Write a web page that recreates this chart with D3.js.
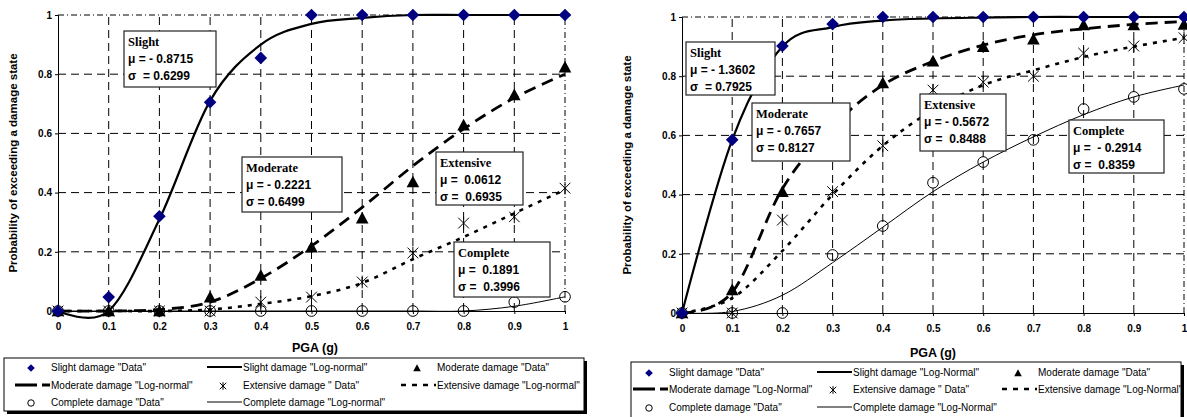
<!DOCTYPE html>
<html>
<head>
<meta charset="utf-8">
<script src="https://cdn.jsdelivr.net/npm/d3@7"></script>
<style>
  body { margin: 0; background: #fff; }
  svg { display: block; }
</style>
</head>
<body>
<svg id="chart" width="1187" height="417"></svg>
<script>
// PGA steps (g)
const pga = [0, 0.1, 0.2, 0.3, 0.4, 0.5, 0.6, 0.7, 0.8, 0.9, 1];
const xTicks = [0, 0.1, 0.2, 0.3, 0.4, 0.5, 0.6, 0.7, 0.8, 0.9, 1];
const yTicks = [0, 0.2, 0.4, 0.6, 0.8, 1];

// left chart
const leftSlightData = [0, 0.047, 0.32, 0.705, 0.855, 1, 1, 1, 1, 1, 1];
const leftSlightLN = [0, 0, 0.31, 0.71, 0.9, 0.97, 0.99, 1, 1, 1, 1];
const leftModerateData = [0, 0, 0, 0.047, 0.12, 0.216, 0.314, 0.436, 0.628, 0.73, 0.824];
const leftModerateLN = [0, 0, 0.005, 0.03, 0.11, 0.22, 0.35, 0.49, 0.615, 0.72, 0.8];
const leftExtensiveData = [0, 0, 0, 0, 0.03, 0.047, 0.098, 0.196, 0.297, 0.318, 0.415];
const leftExtensiveLN = [0, 0, 0, 0.005, 0.024, 0.05, 0.095, 0.175, 0.25, 0.33, 0.41];
const leftCompleteData = [0, 0, 0, 0, 0, 0, 0, 0, 0, 0.03, 0.048];
const leftCompleteLN = [0, 0, 0, 0, 0, 0, 0, 0, 0, 0.016, 0.048];

// right chart
const rightSlightData = [0, 0.585, 0.902, 0.976, 1, 1, 1, 1, 1, 1, 1];
const rightSlightLN = [0, 0.585, 0.9, 0.966, 0.988, 0.995, 0.998, 1, 1, 1, 1];
const rightModerateData = [0, 0.078, 0.41, 0.62, 0.777, 0.851, 0.9, 0.925, 0.973, 0.973, 0.975];
const rightModerateLN = [0, 0.07, 0.42, 0.63, 0.77, 0.85, 0.905, 0.94, 0.96, 0.975, 0.985];
const rightExtensiveData = [0, 0, 0.314, 0.41, 0.565, 0.753, 0.78, 0.8, 0.878, 0.902, 0.93];
const rightExtensiveLN = [0, 0.05, 0.21, 0.4, 0.565, 0.686, 0.77, 0.82, 0.865, 0.9, 0.93];
const rightCompleteData = [0, 0, 0, 0.196, 0.294, 0.44, 0.51, 0.585, 0.689, 0.73, 0.757];
const rightCompleteLN = [0, 0.005, 0.06, 0.17, 0.29, 0.41, 0.51, 0.595, 0.67, 0.73, 0.77];

// fitted parameters shown in the boxes
const leftParams = [
  { name: "Slight", mu: "μ = - 0.8715", sigma: "σ  = 0.6299" },
  { name: "Moderate", mu: "μ = - 0.2221", sigma: "σ = 0.6499" },
  { name: "Extensive", mu: "μ =  0.0612", sigma: "σ =  0.6935" },
  { name: "Complete", mu: "μ =  0.1891", sigma: "σ =  0.3996" }
];
const rightParams = [
  { name: "Slight", mu: "μ = - 1.3602", sigma: "σ  = 0.7925" },
  { name: "Moderate", mu: "μ = - 0.7657", sigma: "σ = 0.8127" },
  { name: "Extensive", mu: "μ = - 0.5672", sigma: "σ =  0.8488" },
  { name: "Complete", mu: "μ =  - 0.2914", sigma: "σ =  0.8359" }
];

const leftLegend = ['Slight damage "Data"', 'Slight damage "Log-normal"', 'Moderate damage "Data"',
  'Moderate damage "Log-normal"', 'Extensive damage " Data"', 'Extensive damage "Log-normal"',
  'Complete damage "Data"', 'Complete damage "Log-normal"'];
const rightLegend = ['Slight damage "Data"', 'Slight damage "Log-Normal"', 'Moderate damage "Data"',
  'Moderate damage "Log-Normal"', 'Extensive damage " Data"', 'Extensive damage "Log-Normal"',
  'Complete damage "Data"', 'Complete damage "Log-Normal"'];

// marker / line styles per legend entry
const legendKinds = ["diamond", "slightLine", "triangle", "moderateLine", "star", "extensiveLine", "circle", "completeLine"];
const lineStyle = {
  slightLine: { w: 2.2, dash: null },
  moderateLine: { w: 2.8, dash: "12,7" },
  extensiveLine: { w: 2.6, dash: "4,6" },
  completeLine: { w: 1, dash: null }
};

const svg = d3.select("#chart");
const sans = "'Liberation Sans', Arial, sans-serif";
const serif = "'Liberation Serif', 'Times New Roman', serif";

function marker(g, kind, s) {
  if (kind === "diamond") {
    g.append("path").attr("d", `M0,${-s}L${s},0L0,${s}L${-s},0Z`).attr("fill", "#000080");
  } else if (kind === "triangle") {
    g.append("path").attr("d", `M0,${-s}L${s},${s * 0.85}L${-s},${s * 0.85}Z`).attr("fill", "#000");
  } else if (kind === "circle") {
    g.append("circle").attr("r", s * 0.85).attr("fill", "none").attr("stroke", "#000").attr("stroke-width", 1);
  } else if (kind === "star") {
    const k = s * 0.85;
    g.append("path")
      .attr("d", `M${-k},${-k}L${k},${k}M${-k},${k}L${k},${-k}M0,${-s}L0,${s}`)
      .attr("stroke", "#000").attr("stroke-width", 1).attr("fill", "none");
  }
}

function drawPanel(cfg) {
  const x = d3.scaleLinear().domain([0, 1]).range([cfg.left, cfg.right]);
  const y = d3.scaleLinear().domain([0, 1]).range([cfg.bottom, cfg.top]);
  const g = svg.append("g");

  // grid
  g.selectAll(".vgrid").data(xTicks.filter(d => d > 0)).enter().append("line")
    .attr("x1", d => x(d)).attr("x2", d => x(d))
    .attr("y1", y(0)).attr("y2", y(1))
    .attr("stroke", "#000").attr("stroke-width", 1)
    .attr("stroke-dasharray", d => d === 1 ? "6,3,1,3" : "8,5");
  g.selectAll(".hgrid").data(yTicks.filter(d => d > 0)).enter().append("line")
    .attr("x1", x(0)).attr("x2", x(1))
    .attr("y1", d => y(d)).attr("y2", d => y(d))
    .attr("stroke", "#000").attr("stroke-width", 1)
    .attr("stroke-dasharray", d => d === 1 ? "6,3,1,3" : "8,5");

  // axes
  const xAxis = g.append("g").attr("transform", `translate(0,${y(0)})`)
    .call(d3.axisBottom(x).tickValues(xTicks).tickSize(3).tickFormat(d => d3.format("")(d)));
  const yAxis = g.append("g").attr("transform", `translate(${x(0)},0)`)
    .call(d3.axisLeft(y).tickValues(yTicks).tickSize(3).tickFormat(d => d3.format("")(d)));
  [xAxis, yAxis].forEach(a => {
    a.select(".domain").attr("stroke", "#000");
    a.selectAll("line").attr("stroke", "#000");
    a.selectAll("text").attr("fill", "#000").style("font-family", sans)
      .style("font-size", "10px").style("font-weight", "bold");
  });
  xAxis.selectAll("text").attr("dy", "1.25em");

  // curves
  const line = d3.line().x((d, i) => x(pga[i])).y(d => y(d)).curve(d3.curveCardinal.tension(0));
  const curves = [
    [cfg.completeLN, "completeLine"],
    [cfg.extensiveLN, "extensiveLine"],
    [cfg.moderateLN, "moderateLine"],
    [cfg.slightLN, "slightLine"]
  ];
  curves.forEach(([vals, kind]) => {
    g.append("path").datum(vals).attr("d", line)
      .attr("fill", "none").attr("stroke", "#000")
      .attr("stroke-width", lineStyle[kind].w)
      .attr("stroke-dasharray", lineStyle[kind].dash);
  });

  // data points
  const pts = [
    [cfg.completeData, "circle"],
    [cfg.extensiveData, "star"],
    [cfg.moderateData, "triangle"],
    [cfg.slightData, "diamond"]
  ];
  pts.forEach(([vals, kind]) => {
    vals.forEach((v, i) => {
      const m = g.append("g").attr("transform", `translate(${x(pga[i])},${y(v)})`);
      marker(m, kind, 6.3);
    });
  });

  // parameter boxes
  cfg.params.forEach((p, i) => {
    const b = cfg.boxes[i];
    const bg = g.append("g").attr("transform", `translate(${b[0]},${b[1]})`);
    bg.append("rect").attr("width", b[2]).attr("height", b[3])
      .attr("fill", "#fff").attr("stroke", "#222").attr("stroke-width", 1.2);
    bg.append("text").attr("x", 4).attr("y", 15).text(p.name)
      .style("font-family", serif).style("font-weight", "bold").style("font-size", "12.5px");
    bg.append("text").attr("x", 4).attr("y", 32).text(p.mu)
      .style("font-family", sans).style("font-weight", "bold").style("font-size", "12px").style("white-space", "pre");
    bg.append("text").attr("x", 4).attr("y", 49).text(p.sigma)
      .style("font-family", sans).style("font-weight", "bold").style("font-size", "12px").style("white-space", "pre");
  });

  // axis titles
  svg.append("text")
    .attr("transform", `translate(${cfg.yTitleX},${(y(0) + y(1)) / 2}) rotate(-90)`)
    .attr("text-anchor", "middle")
    .style("font-family", sans).style("font-weight", "bold").style("font-size", "11.5px")
    .text("Probability of exceeding a damage state");
  svg.append("text")
    .attr("x", cfg.xTitleX).attr("y", cfg.xTitleY)
    .attr("text-anchor", "middle")
    .style("font-family", sans).style("font-weight", "bold").style("font-size", "12.5px")
    .text("PGA (g)");

  // legend
  const L = cfg.legend;
  const lg = svg.append("g").attr("transform", `translate(${L.x},${L.y})`);
  lg.append("rect").attr("x", 3).attr("y", 3).attr("width", L.w).attr("height", L.h).attr("fill", "#000");
  lg.append("rect").attr("width", L.w).attr("height", L.h)
    .attr("fill", "#fff").attr("stroke", "#000").attr("stroke-width", 1);
  cfg.legendLabels.forEach((label, i) => {
    const col = i % 3, row = Math.floor(i / 3);
    const tx = L.cols[col], ty = L.rows[row];
    const kind = legendKinds[i];
    if (lineStyle[kind]) {
      lg.append("line").attr("x1", tx - 35).attr("x2", tx).attr("y1", ty).attr("y2", ty)
        .attr("stroke", "#000").attr("stroke-width", lineStyle[kind].w)
        .attr("stroke-dasharray", lineStyle[kind].dash ? (kind === "moderateLine" ? "22,5" : "5,6") : null);
    } else {
      const m = lg.append("g").attr("transform", `translate(${tx - 19},${ty + 1})`);
      marker(m, kind, 3.8);
    }
    lg.append("text").attr("x", tx + 1).attr("y", ty + 3.5).text(label)
      .style("font-family", sans).style("font-size", "10px");
  });
}

drawPanel({
  left: 58, right: 565, top: 15, bottom: 311,
  slightData: leftSlightData, slightLN: leftSlightLN,
  moderateData: leftModerateData, moderateLN: leftModerateLN,
  extensiveData: leftExtensiveData, extensiveLN: leftExtensiveLN,
  completeData: leftCompleteData, completeLN: leftCompleteLN,
  params: leftParams,
  boxes: [[124, 31, 92, 56], [242, 157, 100, 55], [436, 152, 87, 53], [454, 242, 96, 55]],
  yTitleX: 17, xTitleX: 315, xTitleY: 352,
  legendLabels: leftLegend,
  legend: { x: 4, y: 358, w: 580, h: 53, cols: [46, 238, 432], rows: [9, 27, 44] }
});

drawPanel({
  left: 682, right: 1184, top: 17, bottom: 313,
  slightData: rightSlightData, slightLN: rightSlightLN,
  moderateData: rightModerateData, moderateLN: rightModerateLN,
  extensiveData: rightExtensiveData, extensiveLN: rightExtensiveLN,
  completeData: rightCompleteData, completeLN: rightCompleteLN,
  params: rightParams,
  boxes: [[686, 42, 89, 53], [752, 103, 98, 58], [920, 94, 86, 57], [1069, 120, 95, 53]],
  yTitleX: 631, xTitleX: 933, xTitleY: 357,
  legendLabels: rightLegend,
  legend: { x: 631, y: 362, w: 550, h: 56, cols: [37, 221, 406], rows: [10, 27, 45] }
});
</script>
</body>
</html>
